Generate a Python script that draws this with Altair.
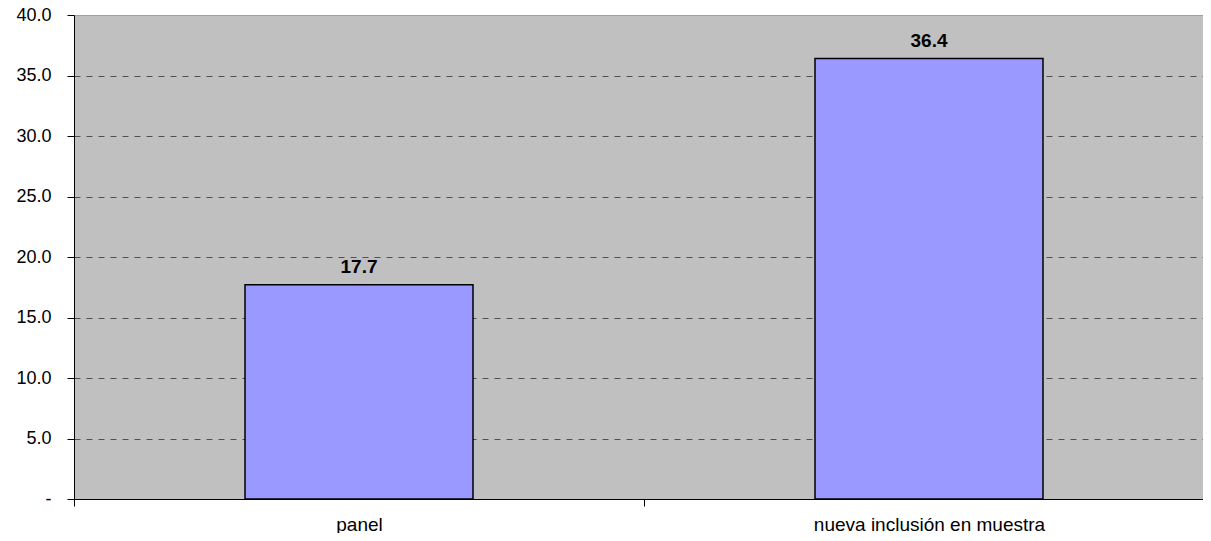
import altair as alt
import pandas as pd

categories = ["panel", "nueva inclusión en muestra"]
values = [17.7, 36.4]
y_ticks = [0, 5, 10, 15, 20, 25, 30, 35, 40]

df = pd.DataFrame({"cat": categories, "val": values})

FONT = "Liberation Sans"

x_enc = alt.X(
    "cat:N",
    sort=categories,
    title=None,
    scale=alt.Scale(range=[0, 1140], paddingInner=0.6, paddingOuter=0.3),
    axis=alt.Axis(
        labelAngle=0,
        tickOffset=-285,
        labelOffset=285,
        domainColor="#000000",
        domainWidth=1,
        tickColor="#000000",
        tickSize=7,
        labelFont=FONT,
        labelFontSize=19,
        labelColor="#000000",
        labelPadding=9,
        labelLimit=500,
        grid=False,
    ),
)

y_enc = alt.Y(
    "val:Q",
    title=None,
    scale=alt.Scale(domain=[0, 40], nice=False),
    axis=alt.Axis(
        values=y_ticks,
        labelExpr="datum.value == 0 ? '-' : format(datum.value, '.1f')",
        labelFont=FONT,
        labelFontSize=18,
        labelColor="#000000",
        labelPadding=16,
        tickColor="#000000",
        tickSize=7,
        domainColor="#000000",
        domainWidth=1,
        grid=True,
        gridColor={"condition": {"test": "datum.value === 40", "value": "#A0A0A0"}, "value": "#505050"},
        gridDash={"condition": {"test": "datum.value === 40", "value": []}, "value": [6, 6]},
        gridWidth=1,
    ),
)

base = alt.Chart(df)

bars = base.mark_bar(color="#9999FF", stroke="#000000", strokeWidth=1.5).encode(
    x=x_enc, y=y_enc
)

labels = base.mark_text(
    font=FONT, fontSize=19, fontWeight="bold", color="#000000",
    baseline="alphabetic", dy=-12
).encode(
    x=alt.X("cat:N", sort=categories),
    y=alt.Y("val:Q"),
    text=alt.Text("val:Q", format=".1f"),
)

chart = (
    (bars + labels)
    .properties(
        width=1129,
        height=484,
        autosize=alt.AutoSizeParams(type="none"),
        padding={"left": 66, "top": 7, "right": 0, "bottom": 34},
        background="#FFFFFF",
    )
    .configure_view(fill="#C0C0C0", stroke="#A0A0A0", strokeWidth=1)
)

chart.save("out.html", embed_options={"renderer": "svg", "actions": False})
